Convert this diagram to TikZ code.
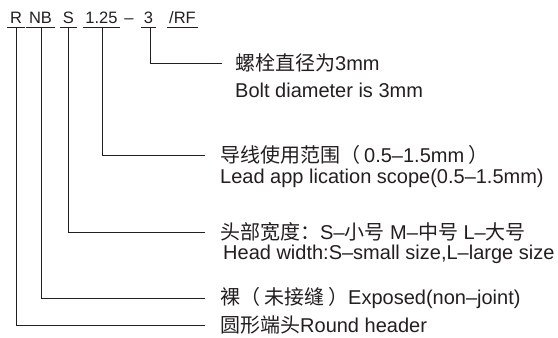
\documentclass[tikz,border=0pt]{standalone}
\usepackage{fontspec}
\setmainfont{Liberation Sans}
\newfontfamily\cjk{Noto Sans CJK SC}
\definecolor{ink}{HTML}{231F20}
\begin{document}
\begin{tikzpicture}[x=1pt,y=-1pt,
  tok/.style={anchor=base,inner xsep=2.5pt,inner ysep=4pt,text depth=0pt,font=\fontsize{16.5}{17}\selectfont,text=ink},
  lbl/.style={anchor=west,inner sep=0pt,font=\fontsize{20}{21}\selectfont,text=ink},
  uline/.style={draw=ink,line width=0.9pt},
  conn/.style={draw=ink,line width=0.8pt}]
\useasboundingbox (0,0) rectangle (558,338);
\fill[white] (0,0) rectangle (558,338);
% top code
\node[tok] (tR) at (16,23) {R};
\node[tok] (tNB) at (40.5,23) {NB};
\node[tok] (tS) at (68.5,23) {S};
\node[tok] (tD) at (101.5,23) {1.25};
\node[tok] (tM) at (129,23) {–};
\node[tok] (t3) at (148.5,23) {3};
\node[tok] (tRF) at (182.5,23) {/RF};
\foreach \n in {tR,tNB,tS,tD,t3,tRF} \draw[uline] (\n.south west) -- (\n.south east);
% labels
\node[lbl] (c3) at (235,63) {{\cjk 螺栓直径为}3mm};
\node[lbl] (e3) at (235,90) {Bolt diameter is 3mm};
\node[lbl] (cD) at (220,155) {{\cjk 导线使用范围（\hspace{0.2em}}0.5–1.5mm{\cjk \hspace{0.2em}）}};
\node[lbl] (eD) at (220,178) {Lead app lication scope(0.5–1.5mm)};
\node[lbl] (cS) at (220,232) {{\cjk 头部宽度：}S–{\cjk 小号} M–{\cjk 中号} L–{\cjk 大号}};
\node[lbl] (eS) at (223,254) {Head width:S–small size,L–large size};
\node[lbl] (cNB) at (220,298) {{\cjk 裸（\hspace{0.2em}未接缝\hspace{0.2em}）}Exposed(non–joint)};
\node[lbl] (cR) at (220,325) {{\cjk 圆形端头}Round header};
% connectors
\draw[conn,shorten >=13pt] ([xshift=1.5pt]t3.south) |- (c3.west);
\draw[conn,shorten >=15pt] ([xshift=0.5pt]tD.south) |- (cD.west);
\draw[conn,shorten >=15pt] ([xshift=-0.5pt]tS.south) |- (cS.west);
\draw[conn,shorten >=15pt] ([xshift=0.5pt]tNB.south) |- (cNB.west);
\draw[conn,shorten >=15pt] ([xshift=0pt]tR.south) |- (cR.west);
\end{tikzpicture}
\end{document}
